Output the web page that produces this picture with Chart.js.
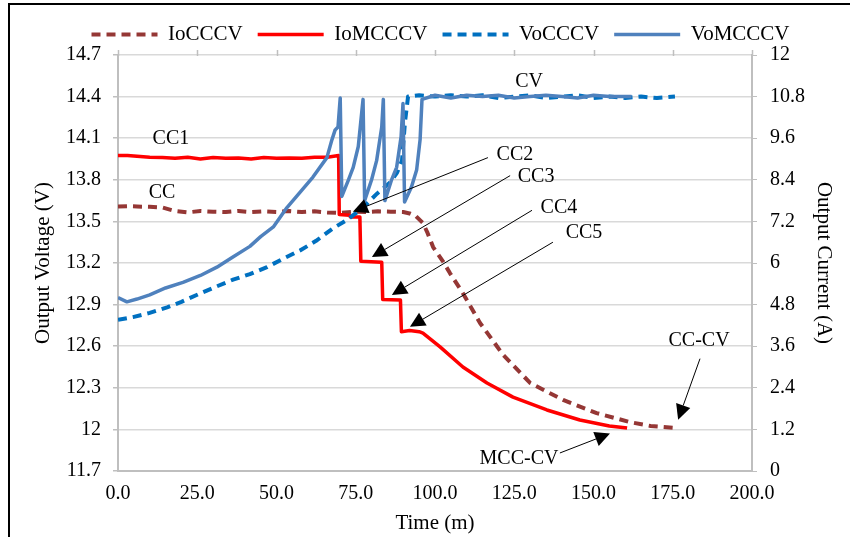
<!DOCTYPE html>
<html>
<head>
<meta charset="utf-8">
<script src="https://cdn.jsdelivr.net/npm/chart.js@4/dist/chart.umd.min.js"></script>
<style>
  html, body { margin: 0; padding: 0; background: #fff; }
  #wrap { width: 850px; height: 537px; position: relative; }
</style>
</head>
<body>
<div id="wrap"><canvas id="c" width="850" height="537"></canvas></div>
<script>
// ---------------- DATA ----------------
const seriesNames = ['IoCCCV', 'IoMCCCV', 'VoCCCV', 'VoMCCCV'];

const xTicks = [0, 25, 50, 75, 100, 125, 150, 175, 200];
const voltTicks = [11.7, 12, 12.3, 12.6, 12.9, 13.2, 13.5, 13.8, 14.1, 14.4, 14.7];
const currTicks = [0, 1.2, 2.4, 3.6, 4.8, 6, 7.2, 8.4, 9.6, 10.8, 12];

// IoCCCV : output current, CC-CV charging (A)
const ioCCCV_t = [0, 3, 6, 10, 14, 18, 22, 26, 30, 34, 38, 42, 46, 50, 54, 58, 62, 66, 70, 74, 78, 82, 86, 90, 92, 94, 96.2, 97.5, 99.4, 102.5, 104.7, 108.8, 114.2, 121.5, 130, 140.4, 151, 161.5, 168, 175];
const ioCCCV_A = [7.63, 7.64, 7.63, 7.62, 7.6, 7.5, 7.46, 7.5, 7.48, 7.47, 7.5, 7.47, 7.49, 7.47, 7.5, 7.47, 7.49, 7.46, 7.44, 7.48, 7.47, 7.49, 7.48, 7.47, 7.43, 7.35, 7.15, 6.9, 6.46, 6.05, 5.71, 5.13, 4.27, 3.35, 2.54, 2.05, 1.67, 1.41, 1.3, 1.25];

// IoMCCCV : output current, multi-stage CC-CV charging (A)
const ioMCCCV_t = [0, 3, 6, 10, 14, 18, 22, 26, 30, 34, 38, 42, 46, 50, 54, 58, 62, 66, 69.6, 69.8, 73, 73.3, 76.3, 76.6, 83.2, 83.5, 89.1, 89.4, 92, 95, 96.2, 101.6, 108.8, 116.4, 124.6, 135.3, 145.7, 155, 160.6];
const ioMCCCV_A = [9.1, 9.1, 9.08, 9.05, 9.04, 9.02, 9.05, 9.0, 9.04, 9.02, 9.03, 9.0, 9.04, 9.02, 9.03, 9.02, 9.05, 9.05, 9.1, 7.4, 7.38, 7.33, 7.33, 6.05, 6.02, 4.95, 4.93, 4.02, 4.05, 4.02, 3.98, 3.58, 3.0, 2.54, 2.13, 1.76, 1.47, 1.3, 1.24];

// VoCCCV : output voltage, CC-CV charging (V)
const voCCCV_t = [0, 4.7, 10, 15.5, 20, 25.9, 31, 36.3, 41.6, 47, 52, 57.4, 62.5, 67.8, 72.2, 77.3, 81.7, 85.8, 88, 89.6, 90.5, 91.5, 95, 100, 105, 110, 115, 120, 125, 130, 135, 140, 145, 150, 155, 160, 165, 170, 175.7];
const voCCCV_V = [12.79, 12.81, 12.84, 12.88, 12.92, 12.98, 13.03, 13.08, 13.12, 13.17, 13.23, 13.29, 13.36, 13.45, 13.51, 13.6, 13.7, 13.78, 13.85, 13.94, 14.21, 14.4, 14.41, 14.4, 14.41, 14.4, 14.41, 14.39, 14.4, 14.41, 14.39, 14.4, 14.41, 14.39, 14.4, 14.39, 14.4, 14.39, 14.4];

// VoMCCCV : output voltage, multi-stage CC-CV charging (V)
const voMCCCV_t = [0, 2.8, 6, 10, 15, 20.5, 26, 31.2, 36, 41.6, 45, 49, 53.3, 57.4, 61.5, 65.9, 67.5, 68.5, 69.4, 70.1, 70.6, 72.7, 74.2, 75.8, 77.3, 77.8, 80, 81.6, 83.2, 83.7, 84.2, 86.3, 87.9, 89.3, 89.9, 90.4, 92.6, 94.2, 95.3, 95.9, 100, 105, 110, 115, 120, 125, 130, 135, 140, 145, 150, 155, 162];
const voMCCCV_V = [12.95, 12.92, 12.94, 12.97, 13.02, 13.06, 13.11, 13.17, 13.24, 13.32, 13.39, 13.46, 13.6, 13.71, 13.82, 13.96, 14.09, 14.16, 14.18, 14.39, 13.68, 13.8, 13.89, 14.04, 14.38, 13.65, 13.8, 13.94, 14.18, 14.38, 13.65, 13.8, 13.89, 14.11, 14.35, 13.64, 13.75, 13.87, 14.09, 14.38, 14.41, 14.39, 14.41, 14.4, 14.41, 14.39, 14.4, 14.41, 14.4, 14.39, 14.41, 14.4, 14.4];

// Annotations in data coordinates (time, voltage)
const annotations = [
  { text: 'CC1', at: [16.7, 14.094] },
  { text: 'CC', at: [13.9, 13.705] },
  { text: 'CV', at: [129.7, 14.51] },
  { text: 'CC2', at: [125.2, 13.98], from: [116.7, 13.96], to: [74.1, 13.57] },
  { text: 'CC3', at: [131.9, 13.82], from: [123.7, 13.83], to: [80.1, 13.243] },
  { text: 'CC4', at: [139.1, 13.60], from: [130.6, 13.58], to: [86.4, 12.97] },
  { text: 'CC5', at: [147.0, 13.42], from: [137.2, 13.35], to: [92.1, 12.74] },
  { text: 'CC-CV', at: [183.3, 12.64], from: [183.6, 12.51], to: [176.7, 12.07] },
  { text: 'MCC-CV', at: [126.5, 11.79], from: [139.4, 11.83], to: [155.2, 11.97] }
];

// ---------------- CHART ----------------
const FONT = "'Liberation Serif', 'Times New Roman', Times, serif";
Chart.defaults.font.family = FONT;
Chart.defaults.color = '#000';

const toXY = (ts, vs) => ts.map((t, i) => ({ x: t, y: vs[i] }));
const fmt = v => String(Number(Number(v).toFixed(1)));

const decor = {
  id: 'decor',
  afterDraw(chart) {
    const ctx = chart.ctx;
    const xs = chart.scales.x, ys = chart.scales.y;
    const area = chart.chartArea;
    ctx.save();
    // outer frame
    ctx.strokeStyle = '#000';
    ctx.lineWidth = 2;
    ctx.beginPath();
    ctx.moveTo(9, 537);
    ctx.lineTo(9, 4);
    ctx.lineTo(850, 4);
    ctx.stroke();
    // top tick marks
    ctx.strokeStyle = '#bfbfbf';
    ctx.lineWidth = 1.5;
    xs.ticks.forEach(t => {
      const px = Math.round(xs.getPixelForValue(t.value)) + 0.5;
      ctx.beginPath();
      ctx.moveTo(px, area.top - 5);
      ctx.lineTo(px, area.top + 1);
      ctx.stroke();
    });
    // annotations
    ctx.fillStyle = '#000';
    ctx.strokeStyle = '#000';
    ctx.font = '20px ' + FONT;
    ctx.textAlign = 'center';
    ctx.textBaseline = 'middle';
    annotations.forEach(a => {
      ctx.fillText(a.text, xs.getPixelForValue(a.at[0]), ys.getPixelForValue(a.at[1]));
      if (a.from) {
        const x1 = xs.getPixelForValue(a.from[0]), y1 = ys.getPixelForValue(a.from[1]);
        const x2 = xs.getPixelForValue(a.to[0]), y2 = ys.getPixelForValue(a.to[1]);
        const ang = Math.atan2(y2 - y1, x2 - x1);
        const L = 15, W = 7.5;
        const bx = x2 - Math.cos(ang) * L, by = y2 - Math.sin(ang) * L;
        ctx.lineWidth = 1;
        ctx.beginPath();
        ctx.moveTo(x1, y1);
        ctx.lineTo(bx, by);
        ctx.stroke();
        ctx.beginPath();
        ctx.moveTo(x2, y2);
        ctx.lineTo(bx + Math.sin(ang) * W, by - Math.cos(ang) * W);
        ctx.lineTo(bx - Math.sin(ang) * W, by + Math.cos(ang) * W);
        ctx.closePath();
        ctx.fill();
      }
    });
    ctx.restore();
  }
};

new Chart(document.getElementById('c'), {
  type: 'line',
  data: {
    datasets: [
      { label: seriesNames[0], data: toXY(ioCCCV_t, ioCCCV_A), yAxisID: 'y2',
        borderColor: '#953735', backgroundColor: '#953735', borderWidth: 4, borderDash: [9, 6], order: 4 },
      { label: seriesNames[1], data: toXY(ioMCCCV_t, ioMCCCV_A), yAxisID: 'y2',
        borderColor: '#ff0000', backgroundColor: '#ff0000', borderWidth: 3.5, order: 3 },
      { label: seriesNames[2], data: toXY(voCCCV_t, voCCCV_V), yAxisID: 'y',
        borderColor: '#0070c0', backgroundColor: '#0070c0', borderWidth: 4, borderDash: [9, 6], order: 2 },
      { label: seriesNames[3], data: toXY(voMCCCV_t, voMCCCV_V), yAxisID: 'y',
        borderColor: '#4f81bd', backgroundColor: '#4f81bd', borderWidth: 3.5, order: 1 }
    ]
  },
  options: {
    responsive: false,
    animation: false,
    devicePixelRatio: 1,
    elements: { point: { radius: 0 }, line: { tension: 0, borderJoinStyle: 'round' } },
    layout: { padding: { left: 31, right: 0, top: 9, bottom: 0 } },
    plugins: {
      tooltip: { enabled: false },
      legend: {
        position: 'top',
        labels: {
          usePointStyle: true, pointStyle: 'line', pointStyleWidth: 66,
          padding: 15, color: '#000', font: { size: 21, family: FONT },
          sort: (a, b) => a.datasetIndex - b.datasetIndex,
          generateLabels: chart => {
            const items = Chart.defaults.plugins.legend.labels.generateLabels(chart);
            items.forEach(it => {
              const ds = chart.data.datasets[it.datasetIndex];
              it.lineDash = ds.borderDash || [];
              it.lineWidth = ds.borderWidth;
              it.strokeStyle = ds.borderColor;
              it.fillStyle = ds.borderColor;
              it.lineCap = 'butt';
            });
            return items;
          }
        }
      }
    },
    scales: {
      x: {
        type: 'linear', position: 'bottom', min: 0, max: 200,
        afterBuildTicks: s => { s.ticks = xTicks.map(v => ({ value: v })); },
        afterFit: s => { s.height = 66; },
        grid: { drawOnChartArea: false, drawTicks: false },
        border: { display: true, color: '#bfbfbf', width: 2 },
        ticks: { padding: 11, font: { size: 20 }, color: '#000', callback: v => Number(v).toFixed(1), maxRotation: 0 },
        title: { display: true, text: 'Time (m)', font: { size: 21 }, color: '#000', padding: { top: 0, bottom: 1 } }
      },
      y: {
        type: 'linear', position: 'left', min: 11.7, max: 14.7,
        afterBuildTicks: s => { s.ticks = voltTicks.map(v => ({ value: v })); },
        afterFit: s => { s.width = 87; },
        grid: { color: '#d9d9d9', lineWidth: 1.5, tickColor: '#bfbfbf', tickLength: 5 },
        border: { display: true, color: '#bfbfbf', width: 2 },
        ticks: { padding: 12, font: { size: 20 }, color: '#000', callback: fmt },
        title: { display: true, text: 'Output Voltage (V)', font: { size: 21 }, color: '#000', padding: { top: 0, bottom: 0 } }
      },
      y2: {
        type: 'linear', position: 'right', min: 0, max: 12,
        afterBuildTicks: s => { s.ticks = currTicks.map(v => ({ value: v })); },
        afterFit: s => { s.width = 98; },
        grid: { drawOnChartArea: false, tickColor: '#bfbfbf', tickLength: 5 },
        border: { display: true, color: '#bfbfbf', width: 2 },
        ticks: { padding: 13, font: { size: 20 }, color: '#000', callback: fmt },
        title: { display: true, text: 'Output Current (A)', font: { size: 21 }, color: '#000', padding: { top: 14, bottom: 0 } }
      }
    }
  },
  plugins: [decor]
});
</script>
</body>
</html>
